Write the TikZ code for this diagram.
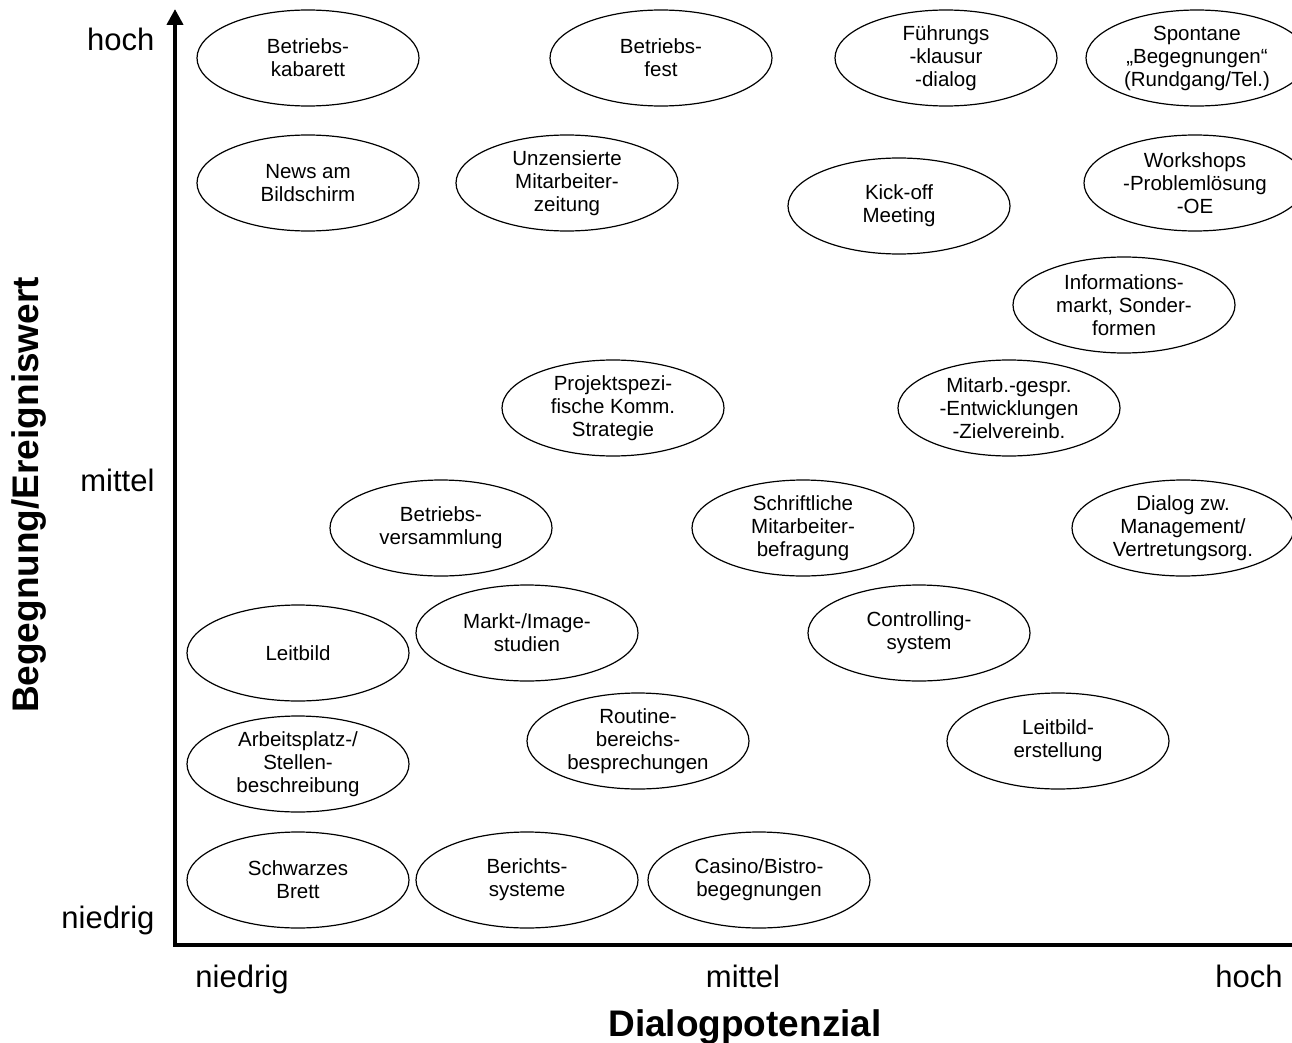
\documentclass[tikz,border=0pt]{standalone}
\usepackage{fontspec}
\setmainfont{Liberation Sans}
\usetikzlibrary{arrows.meta}
\begin{document}
\begin{tikzpicture}[x=1pt,y=-1pt,
    entry/.style={align=center,font=\fontsize{20.5}{23}\selectfont},
    level/.style={font=\fontsize{31}{36}\selectfont,anchor=base},
    title/.style={font=\bfseries\fontsize{37}{42}\selectfont,anchor=base},
    axis/.style={line width=4pt,{Triangle[width=16pt,length=16pt]}-{Triangle[width=16pt,length=16pt]}}]
  \useasboundingbox (0,0) rectangle (1292,1043);
  % axes
  \coordinate (ytop) at (175,9);
  \coordinate (origin) at (175,945);
  \coordinate (xend) at (1312,945);
  \draw[axis] (ytop) -- (origin) -- (xend);
  \node[level,anchor=base east] (yhoch) at (158,51) {hoch};
  \node[level,anchor=base east] (ymittel) at (158,491) {mittel};
  \node[level,anchor=base east] (yniedrig) at (158,928) {niedrig};
  \node[level] (xniedrig) at (242,987) {niedrig};
  \node[level] (xmittel) at (743,987) {mittel};
  \node[level] (xhoch) at (1249,987) {hoch};
  \node[title] (xtitle) at (745,1036) {Dialogpotenzial};
  \node[title,rotate=90] (ytitle) at (38,495) {Begegnung/Ereigniswert};
  % entries
  \draw
    (308,58) node[entry] (kabarett) {Betriebs-\\kabarett}
    (661,58) node[entry] (fest) {Betriebs-\\fest}
    (946,58) node[entry] (klausur) {Führungs\\-klausur\\-dialog}
    (1197,58) node[entry] (spontan) {Spontane\\„Begegnungen“\\(Rundgang/Tel.)}
    (308,183) node[entry] (news) {News am\\Bildschirm}
    (567,183) node[entry] (zeitung) {Unzensierte\\Mitarbeiter-\\zeitung}
    (899,206) node[entry] (kickoff) {Kick-off\\Meeting}
    (1195,183) node[entry] (workshops) {Workshops\\-Problemlösung\\-OE}
    (1124,305) node[entry] (infomarkt) {Informations-\\markt, Sonder-\\formen}
    (613,408) node[entry] (projekt) {Projektspezi-\\fische Komm.\\Strategie}
    (1009,408) node[entry] (mitarb) {Mitarb.-gespr.\\-Entwicklungen\\-Zielvereinb.}
    (441,528) node[entry] (versammlung) {Betriebs-\\versammlung}
    (803,528) node[entry] (befragung) {Schriftliche\\Mitarbeiter-\\befragung}
    (1183,528) node[entry] (dialog) {Dialog zw.\\Management/\\Vertretungsorg.}
    (298,653) node[entry] (leitbild) {Leitbild}
    (527,633) node[entry] (studien) {Markt-/Image-\\studien}
    (919,633) node[entry] (controlling) {Controlling-\\system}
    (638,741) node[entry] (routine) {Routine-\\bereichs-\\besprechungen}
    (298,764) node[entry] (arbeitsplatz) {Arbeitsplatz-/\\Stellen-\\beschreibung}
    (1058,741) node[entry] (erstellung) {Leitbild-\\erstellung}
    (298,880) node[entry] (brett) {Schwarzes\\Brett}
    (527,880) node[entry] (berichte) {Berichts-\\systeme}
    (759,880) node[entry] (casino) {Casino/Bistro-\\begegnungen};
  \foreach \n in {kabarett,fest,klausur,spontan,news,zeitung,kickoff,workshops,
      infomarkt,projekt,mitarb,versammlung,befragung,dialog,leitbild,studien,
      controlling,routine,arbeitsplatz,erstellung,brett,berichte,casino}
    \draw[line width=1.2pt] (\n.center) ellipse [x radius=111pt, y radius=48pt];
\end{tikzpicture}
\end{document}
